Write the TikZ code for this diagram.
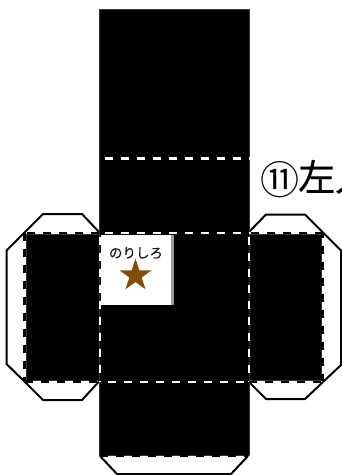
\documentclass[tikz,border=0pt]{standalone}
\usepackage{fontspec}
\usetikzlibrary{shapes.geometric}
\newfontfamily\cjk{Noto Sans CJK JP}
\newfontfamily\cjkb[FakeBold=0.35]{Noto Sans CJK JP}
\definecolor{starbrown}{HTML}{7F4F05}
\begin{document}
\begin{tikzpicture}[x=1pt,y=-1pt,
  tabline/.style={draw=black,line width=2pt,line join=round},
  blk/.style={fill=black,draw=black!80,line width=0.6pt},
  wd/.style={draw=white,line width=2.4pt,dash pattern=on 8pt off 8pt},
  kd/.style={draw=black,line width=2.6pt,dash pattern=on 8pt off 8pt}]
\useasboundingbox (0,0) rectangle (342,475);
\clip (0,0) rectangle (342,475);
% tabs
\draw[tabline] (24.5,232.5)--(43,214)--(82,214)--(99,232);
\draw[tabline] (24.5,232.5)--(6.5,250.5)--(6.5,364)--(24.5,381.5);
\draw[tabline] (24.5,381.5)--(43,400)--(82,400)--(99,381.5);
\draw[tabline] (249,232)--(266,214.5)--(305,214.5)--(323,232.5);
\draw[tabline] (323,232.5)--(341,250.5)--(341,365)--(323,382);
\draw[tabline] (249,382)--(266,399)--(305,399)--(323,382);
\draw[tabline] (100,456)--(117,474)--(231,474)--(248,456);
% black
\path[blk] (99,8.8) rectangle (249,455.3);
\path[blk] (26,234.5) rectangle (99,380.2);
\path[blk] (249,234.5) rectangle (321,380.5);
% glue area
\fill[white] (100.7,234.5) rectangle (171,305);
\fill[black!40] (171,234.5) rectangle (174,305);
\node[font=\cjkb,inner sep=0pt,text=black!90] (glue) at (136,253) {\fontsize{13.5pt}{13.5pt}\selectfont のりしろ};
\node[star,star points=5,star point ratio=2.618,fill=starbrown,draw=none,minimum size=34pt,inner sep=0pt] (st) at (135.5,275.5) {};
% dashes
\draw[wd,dash phase=11.3pt] (100,158.5)--(249,158.5);
\draw[wd,dash phase=11.3pt] (100,233)--(249,233);
\draw[wd,dash phase=8.3pt] (100,382)--(249,382);
\draw[wd,dash phase=14.3pt] (99.8,235)--(99.8,381);
\draw[wd,dash phase=14.3pt] (249,235)--(249,381);
\draw[kd,dash phase=13.7pt] (25,233)--(99,233);
\draw[kd] (25,381.5)--(99,381.5);
\draw[kd] (24.7,233)--(24.7,381);
\draw[kd,dash phase=14.3pt] (249,233)--(323,233);
\draw[kd] (249,382)--(323,382);
\draw[kd,dash phase=3.3pt] (322.7,233)--(322.7,381);
\draw[kd] (100,456)--(248,456);
\node[font=\cjk,inner sep=0pt] (num) at (280,179.5) {\fontsize{39pt}{39pt}\selectfont ⑪};
\node[font=\cjkb,anchor=base west,inner sep=0pt] (title) at (298,191) {\fontsize{37pt}{37pt}\selectfont 左人};
\end{tikzpicture}
\end{document}
